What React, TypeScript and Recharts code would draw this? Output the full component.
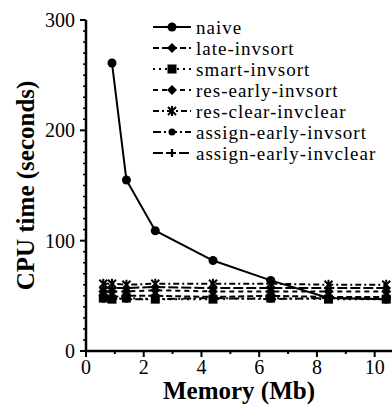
import React from "react";
import { LineChart, Line, XAxis, YAxis, Legend, Label } from "recharts";

// memory sizes (Mb) at which each run was measured
const memory = [0.6, 0.9, 1.4, 2.4, 4.4, 6.4, 8.4, 10.4];

// CPU time (seconds)
const naive = [null, 261, 155, 109, 82, 64, 48, 47];
const lateInvsort = [50, 49, 50, 50, 49, 50, 49, 49];
const smartInvsort = [48, 47, 48, 47, 47, 48, 47, 47];
const resEarlyInvsort = [54, 54, 54, 55, 54, 54, 54, 54];
const resClearInvclear = [61, 61, 60, 61, 61, 61, 60, 60];
const assignEarlyInvsort = [47, 48, 47, 47, 48, 47, 48, 47];
const assignEarlyInvclear = [57, 57, 57, 58, 57, 57, 57, 57];

const xTicks = [0, 1, 2, 3, 4, 5, 6, 7, 8, 9, 10];
const yTicks = Array.from({ length: 31 }, (_, i) => i * 10);

type Marker = "circle" | "diamond" | "square" | "star" | "dot" | "plus";

const series: { key: string; label: string; values: (number | null)[]; dash: string; marker: Marker }[] = [
  { key: "naive", label: "naive", values: naive, dash: "", marker: "circle" },
  { key: "late", label: "late-invsort", values: lateInvsort, dash: "6 3", marker: "diamond" },
  { key: "smart", label: "smart-invsort", values: smartInvsort, dash: "2 4", marker: "square" },
  { key: "resEarly", label: "res-early-invsort", values: resEarlyInvsort, dash: "5 4", marker: "diamond" },
  { key: "resClear", label: "res-clear-invclear", values: resClearInvclear, dash: "6 3 2 3", marker: "star" },
  { key: "assignSort", label: "assign-early-invsort", values: assignEarlyInvsort, dash: "8 3 2 3", marker: "dot" },
  { key: "assignClear", label: "assign-early-invclear", values: assignEarlyInvclear, dash: "10 3", marker: "plus" },
];

const data = memory.map((m, i) => {
  const row: Record<string, number | null> = { memory: m };
  series.forEach((s) => (row[s.key] = s.values[i]));
  return row;
});

const FONT = '"Liberation Serif", "Times New Roman", serif';

function shape(marker: Marker, cx: number, cy: number) {
  switch (marker) {
    case "circle":
      return <circle cx={cx} cy={cy} r={4.5} fill="#000" />;
    case "diamond":
      return <path d={`M${cx},${cy - 5}L${cx + 5},${cy}L${cx},${cy + 5}L${cx - 5},${cy}Z`} fill="#000" />;
    case "square":
      return <rect x={cx - 4.5} y={cy - 4.5} width={9} height={9} fill="#000" />;
    case "star":
      return (
        <path
          d={`M${cx - 4},${cy - 4}L${cx + 4},${cy + 4}M${cx + 4},${cy - 4}L${cx - 4},${cy + 4}M${cx},${cy - 5}L${cx},${cy + 5}`}
          stroke="#000"
          strokeWidth={2}
        />
      );
    case "dot":
      return <circle cx={cx} cy={cy} r={3.5} fill="#000" />;
    case "plus":
      return <path d={`M${cx - 4},${cy}L${cx + 4},${cy}M${cx},${cy - 4}L${cx},${cy + 4}`} stroke="#000" strokeWidth={2.2} />;
  }
}

const makeDot = (marker: Marker) => (props: any) => {
  const { cx, cy, index, value } = props;
  if (value == null || cx == null || cy == null) return <g key={`d-${index}`} />;
  return <g key={`d-${index}`}>{shape(marker, cx, cy)}</g>;
};

function XTick(props: any) {
  const { x, y, payload } = props;
  const major = payload.value % 2 === 0;
  return (
    <g>
      <line x1={x} y1={y} x2={x} y2={y + (major ? 6 : 3)} stroke="#000" strokeWidth={2} />
      {major && (
        <text x={x} y={y + 9} dy="0.71em" textAnchor="middle" fontFamily={FONT} fontSize={20} fill="#000">
          {payload.value}
        </text>
      )}
    </g>
  );
}

function YTick(props: any) {
  const { x, y, payload } = props;
  const major = payload.value % 100 === 0;
  return (
    <g>
      <line x1={x} y1={y} x2={x - (major ? 6 : 3)} y2={y} stroke="#000" strokeWidth={major ? 2 : 1.5} />
      {major && (
        <text x={x - 11} y={y} dy="0.35em" textAnchor="end" fontFamily={FONT} fontSize={20} fill="#000">
          {payload.value}
        </text>
      )}
    </g>
  );
}

function LegendBox() {
  return (
    <div style={{ fontFamily: FONT, fontSize: 19, lineHeight: "21px", letterSpacing: 1, color: "#000" }}>
      {series.map((s) => (
        <div key={s.key} style={{ display: "flex", alignItems: "center", height: 21 }}>
          <svg width={40} height={21} style={{ flexShrink: 0 }}>
            <line x1={1} y1={10} x2={39} y2={10} stroke="#000" strokeWidth={2} strokeDasharray={s.dash || undefined} />
            {shape(s.marker, 20, 10)}
          </svg>
          <span style={{ marginLeft: 4, whiteSpace: "nowrap" }}>{s.label}</span>
        </div>
      ))}
    </div>
  );
}

export default function App() {
  return (
    <div style={{ position: "absolute", left: 0, top: 0, width: 392, height: 409, background: "#fff" }}>
      <LineChart width={392} height={409} data={data} margin={{ top: 20, right: 0, bottom: 0, left: 0 }}>
        <XAxis
          dataKey="memory"
          type="number"
          domain={[0, 10.6]}
          ticks={xTicks}
          interval={0}
          tick={<XTick />}
          tickLine={false}
          tickSize={0}
          tickMargin={0}
          height={58}
          axisLine={{ stroke: "#000", strokeWidth: 2.5 }}
          allowDataOverflow
        >
          <Label
            value="Memory (Mb)"
            position="insideBottom"
            offset={10}
            style={{ fontFamily: FONT, fontSize: 25, fontWeight: "bold", fill: "#000" }}
          />
        </XAxis>
        <YAxis
          type="number"
          domain={[0, 300]}
          ticks={yTicks}
          interval={0}
          tick={<YTick />}
          tickLine={false}
          tickSize={0}
          tickMargin={0}
          width={86}
          axisLine={{ stroke: "#000", strokeWidth: 2.5 }}
        >
          <Label
            content={(p: any) => {
              const vb = p.viewBox;
              const cx = vb.x + 25;
              const cy = vb.y + vb.height / 2;
              return (
                <text
                  x={cx}
                  y={cy}
                  transform={`rotate(-90, ${cx}, ${cy})`}
                  textAnchor="middle"
                  dy="0.35em"
                  fontFamily={FONT}
                  fontSize={25}
                  fontWeight="bold"
                  fill="#000"
                >
                  CPU time (seconds)
                </text>
              );
            }}
          />
        </YAxis>
        <Legend
          layout="vertical"
          verticalAlign="middle"
          align="center"
          content={<LegendBox />}
          wrapperStyle={{ top: 17, left: 152, width: 240 }}
        />
        {series.map((s) => (
          <Line
            key={s.key}
            dataKey={s.key}
            type="linear"
            stroke="#000"
            strokeWidth={2}
            strokeDasharray={s.dash || undefined}
            dot={makeDot(s.marker)}
            activeDot={false}
            connectNulls={false}
            isAnimationActive={false}
          />
        ))}
      </LineChart>
    </div>
  );
}
